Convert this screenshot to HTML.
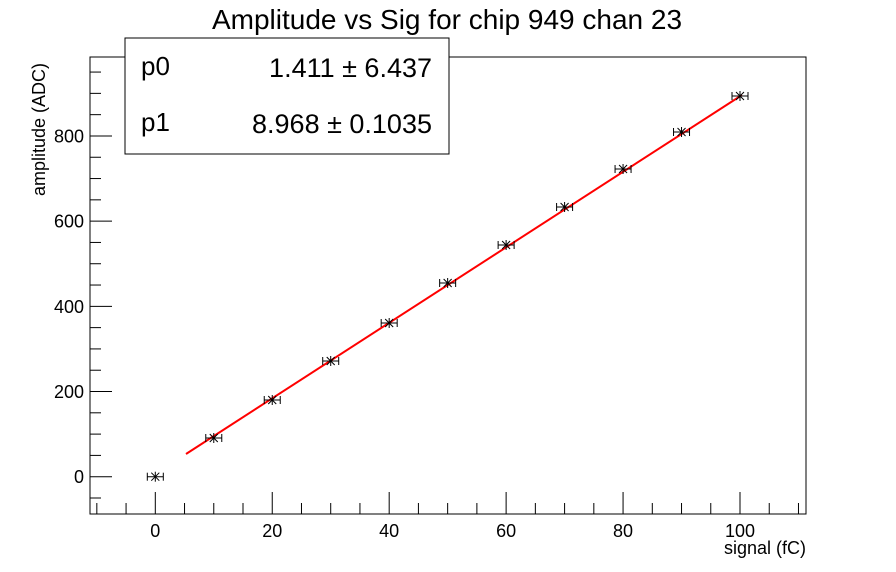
<!DOCTYPE html>
<html><head><meta charset="utf-8"><style>body{margin:0;background:#fff}svg{display:block}</style></head><body>
<svg width="896" height="572" xmlns="http://www.w3.org/2000/svg" font-family="Liberation Sans, sans-serif">
<rect width="896" height="572" fill="#fff"/>
<text x="447" y="29" font-size="28" text-anchor="middle">Amplitude vs Sig for chip 949 chan 23</text>
<rect x="90" y="57" width="716" height="457" fill="none" stroke="#000" stroke-width="1"/>
<g stroke="#000" stroke-width="1" id="ticks"></g>
<g font-size="18" text-anchor="middle" id="xl"></g>
<g font-size="18" text-anchor="end" id="yl"></g>
<text x="806" y="554" font-size="18" text-anchor="end">signal (fC)</text>
<text transform="translate(45,196) rotate(-90)" font-size="18">amplitude (ADC)</text>
<line x1="186" y1="454" x2="742" y2="95" stroke="#f00" stroke-width="2"/>
<g stroke="#000" stroke-width="1" id="pts"></g>
<rect x="125" y="38" width="324" height="116" fill="#fff" stroke="#000" stroke-width="1"/>
<text x="141" y="75" font-size="26">p0</text>
<text x="432" y="77" font-size="27" text-anchor="end">1.411 ± 6.437</text>
<text x="141" y="131" font-size="26">p1</text>
<text x="432" y="133" font-size="27" text-anchor="end">8.968 ± 0.1035</text>
<script>
var ns="http://www.w3.org/2000/svg";
function el(p,t,a,txt){var e=document.createElementNS(ns,t);for(var k in a)e.setAttribute(k,a[k]);if(txt!=null)e.textContent=txt;document.getElementById(p).appendChild(e);}
function X(v){return 155.3+v*5.847;}
function Y(v){return 476.7-v*0.42593;}
for(var v=-10;v<=110;v+=5){var x=X(v),maj=(v%20==0);el("ticks","line",{x1:x,x2:x,y1:514,y2:514-(maj?22:11)});if(maj)el("xl","text",{x:x,y:537},String(v));}
for(var v=-50;v<=950;v+=50){var y=Y(v),maj=(v%200==0);el("ticks","line",{x1:90,x2:90+(maj?22:11),y1:y,y2:y});if(maj)el("yl","text",{x:84,y:y+6.5},String(v));}
var py=[476.7,438,400,361,323,283,245,207,169,132,96];
for(var i=0;i<=10;i++){var x=X(i*10),y=py[i];
el("pts","line",{x1:x-8,x2:x+8,y1:y,y2:y});el("pts","line",{x1:x-8,x2:x-8,y1:y-4,y2:y+4});el("pts","line",{x1:x+8,x2:x+8,y1:y-4,y2:y+4});
el("pts","line",{x1:x,x2:x,y1:y-5,y2:y+5});el("pts","line",{x1:x-4,x2:x+4,y1:y-4,y2:y+4});el("pts","line",{x1:x-4,x2:x+4,y1:y+4,y2:y-4});}
</script>
</svg>
</body></html>
